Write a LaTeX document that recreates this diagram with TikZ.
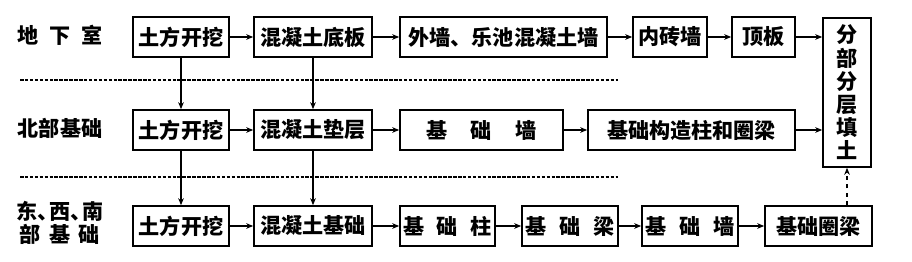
\documentclass[tikz,border=0pt]{standalone}
\usepackage{fontspec}
\setmainfont{Noto Sans CJK SC}
\usetikzlibrary{arrows.meta}
\tikzset{
  stage/.style={draw,line width=1.1pt,minimum height=1cm,inner sep=0pt,
    font=\fontsize{15}{18}\selectfont\bfseries},
  rowlabel/.style={align=center,font=\fontsize{15}{16}\selectfont\bfseries},
  flow/.style={-{Stealth[length=5pt,width=4pt]},line width=0.8pt},
  split/.style={line width=1pt,dash pattern=on 2.5pt off 1pt}
}

\begin{document}
\begin{tikzpicture}[x=0.025cm,y=-0.025cm]
\path[use as bounding box] (0,0) rectangle (912,262);
% row labels
\node[rowlabel] (l1) at (60,35) {地\hspace{0.5em}下\hspace{0.5em}室};
\node[rowlabel] (l2) at (60,128) {北部基础};
\node[rowlabel] (l3) at (60,223) {东、\hspace{-0.45em}西、\hspace{-0.45em}南\\部\hspace{0.4em}基\hspace{0.4em}础};
% separators
\draw[split] (20,80) -- (618,80);
\draw[split] (20,177) -- (618,177);
% basement
\node[stage,minimum width=2.4cm] (a1) at (181,37) {土方开挖};
\node[stage,minimum width=2.95cm] (a2) at (313,37) {混凝土底板};
\node[stage,minimum width=5.175cm] (a3) at (503.5,37) {外墙、乐池混凝土墙};
\node[stage,minimum width=1.85cm] (a4) at (670,37) {内砖墙};
\node[stage,minimum width=1.575cm] (a5) at (763.5,37) {顶板};
\node[stage,minimum width=1.2cm,minimum height=3.725cm,align=center,
  font=\fontsize{15}{16.5}\selectfont\bfseries] (fill) at (847,92.5) {分\\部\\分\\层\\填\\土};
% north part
\node[stage,minimum width=2.4cm] (b1) at (181,130) {土方开挖};
\node[stage,minimum width=2.95cm] (b2) at (313,130) {混凝土垫层};
\node[stage,minimum width=4.075cm] (b3) at (481.5,130) {基\hspace{1.1em}础\hspace{1.1em}墙};
\node[stage,minimum width=5.175cm] (b4) at (691.5,130) {基础构造柱和圈梁};
% east, west, south parts
\node[stage,minimum width=2.4cm] (c1) at (181,226) {土方开挖};
\node[stage,minimum width=2.95cm] (c2) at (313,226) {混凝土基础};
\node[stage,minimum width=2.375cm] (c3) at (447.5,226) {基\hspace{0.6em}础\hspace{0.6em}柱};
\node[stage,minimum width=2.4cm] (c4) at (570,226) {基\hspace{0.6em}础\hspace{0.6em}梁};
\node[stage,minimum width=2.4cm] (c5) at (690,226) {基\hspace{0.6em}础\hspace{0.6em}墙};
\node[stage,minimum width=2.675cm] (c6) at (818.5,226) {基础圈梁};
% flow
\draw[flow] (a1) -- (a2);
\draw[flow] (a2) -- (a3);
\draw[flow] (a3) -- (a4);
\draw[flow] (a4) -- (a5);
\draw[flow] (a5.east) -- (a5.east -| fill.west);
\draw[flow] (b1) -- (b2);
\draw[flow] (b2) -- (b3);
\draw[flow] (b3) -- (b4);
\draw[flow] (b4.east) -- (b4.east -| fill.west);
\draw[flow] (c1) -- (c2);
\draw[flow] (c2) -- (c3);
\draw[flow] (c3) -- (c4);
\draw[flow] (c4) -- (c5);
\draw[flow] (c5) -- (c6);
\draw[flow,dashed] (c6.north -| fill.south) -- (fill.south);
\draw[flow] (a1) -- (b1);
\draw[flow] (b1) -- (c1);
\draw[flow] (a2) -- (b2);
\draw[flow] (b2) -- (c2);
\end{tikzpicture}
\end{document}
